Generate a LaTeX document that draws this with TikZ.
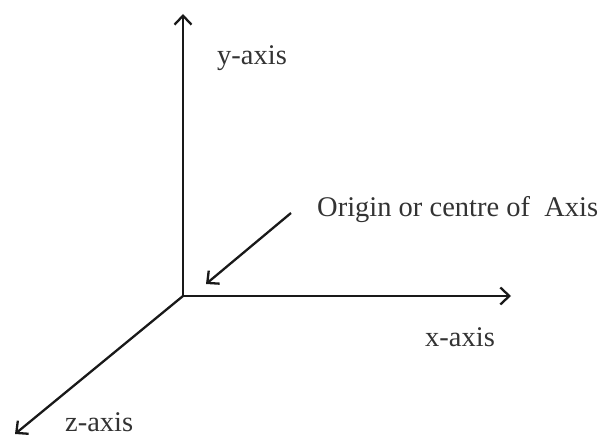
\documentclass[tikz,border=0pt]{standalone}
\usepackage{fontspec}
\setmainfont{Liberation Serif}
\usetikzlibrary{arrows.meta}
\tikzset{
    axis/.style={line width=2.3bp, draw=black!90, -{Straight Barb[length=9bp,width=17bp,line width=2.3bp]}},
    pointer/.style={line width=2.3bp, draw=black!90, -{Straight Barb[length=9bp,width=17bp,line width=2.3bp]}},
    lbl/.style={anchor=base west, inner sep=0pt, font=\fontsize{28.5bp}{34bp}\selectfont, text=black!80}
}
\begin{document}
\begin{tikzpicture}[x=1bp, y=1bp]
    \useasboundingbox (0,0) rectangle (614,437);
    % Ejes
    \coordinate (O) at (183,141);
    \coordinate (ytip) at (183,423);
    \coordinate (xtip) at (511,141);
    \coordinate (ztip) at (15,3);
    \draw[axis] (O) -- (ytip);
    \draw[axis] (O) -- (xtip);
    \draw[axis] (O) -- (ztip);
    % Etiquetas
    \node[lbl] (ylbl) at (217,372) {y-axis};
    \node[lbl] (xlbl) at (425,90) {x-axis};
    \node[lbl] (zlbl) at (65,5) {z-axis};
    \node[lbl] (orig) at (317,220) {Origin or centre of\ \ Axis};
    % Flecha al origen
    \coordinate (pstart) at (291,224);
    \coordinate (pend) at (206,153);
    \draw[pointer] (pstart) -- (pend);
\end{tikzpicture}
\end{document}
